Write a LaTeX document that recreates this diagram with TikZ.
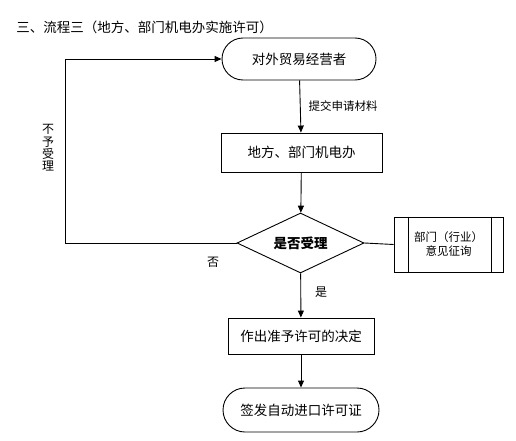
\documentclass[tikz,border=0pt]{standalone}
\usepackage{fontspec}
\setmainfont{Noto Sans CJK SC}
\usetikzlibrary{shapes.geometric,shapes.misc,arrows.meta}
\begin{document}
\begin{tikzpicture}[x=1pt,y=-1pt,line width=0.9pt,
  base/.style={font=\fontsize{13.5}{16}\selectfont},
  term/.style={base,draw,rounded rectangle,minimum width=154pt,minimum height=42pt,inner sep=0pt},
  procbox/.style={base,draw,rectangle,inner sep=0pt},
  decis/.style={base,draw,diamond,aspect=2,inner sep=0pt,minimum width=127pt,minimum height=60pt,font=\fontsize{13.5}{16}\selectfont\bfseries},
  lbl/.style={font=\fontsize{11.5}{14}\selectfont,inner sep=0pt},
  arr/.style={-{Triangle[length=7pt,width=6pt]}}]
\useasboundingbox (0,0) rectangle (516,441);
\node[base,anchor=west,inner sep=0pt] (title) at (16,27) {三、流程三（地方、部门机电办实施许可）};
\node[term] (t1) at (299,59) {对外贸易经营者};
\node[procbox,minimum width=161pt,minimum height=39pt] (b2) at (301.5,152.5) {地方、部门机电办};
\node[decis] (d) at (300.5,243) {是否受理};
\node[procbox,minimum width=109pt,minimum height=55pt,font=\fontsize{11.5}{14}\selectfont,align=center] (r) at (448.5,244.5) {部门（行业）\\意见征询};
\draw ([xshift=15pt]r.north west) -- ([xshift=15pt]r.south west);
\draw ([xshift=-12pt]r.north east) -- ([xshift=-12pt]r.south east);
\node[procbox,minimum width=146pt,minimum height=36pt] (b3) at (301,336) {作出准予许可的决定};
\node[term,minimum width=156pt,minimum height=44pt] (t2) at (301,410) {签发自动进口许可证};
\coordinate (lc) at (65,243);
\draw[arr] (t1) -- (b2) node[lbl,midway,right=8pt] (l1) {提交申请材料};
\draw[arr] (b2) -- (d);
\draw (d.east) -- (r.west);
\draw[arr] (d.west) -- (lc) |- (t1.west);
\draw[arr] (d) -- (b3);
\draw[arr] (b3) -- (t2);
\node[lbl,align=center,font=\fontsize{12}{12.3}\selectfont] (l2) at (48,148) {不\\予\\受\\理};
\node[lbl,font=\fontsize{12}{14}\selectfont] (l3) at (213,262) {否};
\node[lbl,font=\fontsize{12}{14}\selectfont] (l4) at (321,292) {是};
\end{tikzpicture}
\end{document}
